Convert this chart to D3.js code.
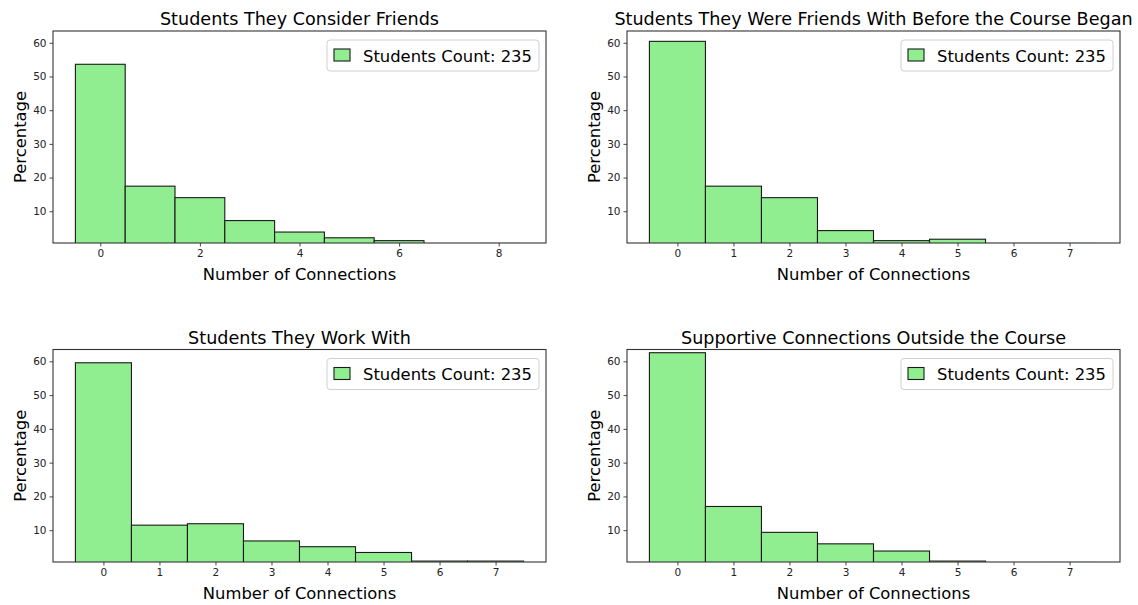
<!DOCTYPE html>
<html>
<head>
<meta charset="utf-8">
<script src="https://cdn.jsdelivr.net/npm/d3@7"></script>
<style>
  html, body { margin: 0; padding: 0; background: #fff; }
  svg { display: block; font-family: "DejaVu Sans", sans-serif; }
</style>
</head>
<body>
<svg id="chart" width="1138" height="605"></svg>
<script>
// Percentage of students (n = 235) by number of connections, one array per question
const titles = [
  "Students They Consider Friends",
  "Students They Were Friends With Before the Course Began",
  "Students They Work With",
  "Supportive Connections Outside the Course"
];
const considerFriends = [53.62, 17.45, 14.04, 7.23, 3.83, 2.13, 1.28, 0, 0.43];
const friendsBefore   = [60.43, 17.45, 14.04, 4.26, 1.28, 1.70, 0.43, 0.43];
const workWith        = [59.57, 11.49, 11.91, 6.81, 5.11, 3.40, 0.85, 0.85];
const supportOutside  = [62.55, 17.02, 9.36, 5.96, 3.83, 0.85, 0, 0.43];
const seriesList = [considerFriends, friendsBefore, workWith, supportOutside];

const xTicksWide = [0, 2, 4, 6, 8];
const xTicksNarrow = [0, 1, 2, 3, 4, 5, 6, 7];
const yTicks = [10, 20, 30, 40, 50, 60];
const legendLabel = "Students Count: 235";
const xLabel = "Number of Connections";
const yLabel = "Percentage";
const yRange = [0.58, 63.5];

const svg = d3.select("#chart");

const panels = [
  { left: 53, right: 546, top: 31, bottom: 243, ticks: xTicksWide },
  { left: 627, right: 1120, top: 31, bottom: 243, ticks: xTicksNarrow },
  { left: 53, right: 546, top: 349.5, bottom: 562, ticks: xTicksNarrow },
  { left: 627, right: 1120, top: 349.5, bottom: 562, ticks: xTicksNarrow }
];

const tickFont = 10.5, labelFont = 16.4, titleFont = 17.6;

panels.forEach((p, i) => {
  const data = seriesList[i];
  const n = data.length;
  const pad = n * 0.05;
  const x = d3.scaleLinear().domain([-0.5 - pad, n - 0.5 + pad]).range([p.left, p.right]);
  const y = d3.scaleLinear().domain(yRange).range([p.bottom, p.top]);

  const g = svg.append("g");
  const clipId = "clip" + i;
  svg.append("clipPath").attr("id", clipId)
    .append("rect")
    .attr("x", p.left).attr("y", p.top)
    .attr("width", p.right - p.left).attr("height", p.bottom - p.top);

  // histogram bars, one per connection count (bin width 1, centred on the integer)
  g.append("g").attr("clip-path", `url(#${clipId})`)
    .selectAll("rect")
    .data(data.map((v, k) => ({ k, v })).filter(d => d.v > 0))
    .join("rect")
    .attr("x", d => x(d.k - 0.5))
    .attr("width", d => x(d.k + 0.5) - x(d.k - 0.5))
    .attr("y", d => y(d.v))
    .attr("height", d => y(0) - y(d.v))
    .attr("fill", "#90ee90")
    .attr("stroke", "#1a1a1a")
    .attr("stroke-width", 1.1);

  // axes
  const xAxis = d3.axisBottom(x).tickValues(p.ticks).tickSize(3.5).tickPadding(3).tickFormat(d3.format("d"));
  const yAxis = d3.axisLeft(y).tickValues(yTicks).tickSize(3.5).tickPadding(3).tickFormat(d3.format("d"));

  const gx = g.append("g").attr("transform", `translate(0,${p.bottom})`).call(xAxis);
  const gy = g.append("g").attr("transform", `translate(${p.left},0)`).call(yAxis);
  [gx, gy].forEach(a => {
    a.select(".domain").remove();
    a.selectAll(".tick line").attr("stroke", "#333").attr("stroke-width", 0.9);
    a.selectAll(".tick text").attr("fill", "#222").style("font-size", tickFont + "px")
      .style("font-family", "DejaVu Sans, sans-serif");
  });

  // frame
  g.append("rect")
    .attr("x", p.left).attr("y", p.top)
    .attr("width", p.right - p.left).attr("height", p.bottom - p.top)
    .attr("fill", "none").attr("stroke", "#333").attr("stroke-width", 1.1);

  // title
  g.append("text")
    .attr("x", (p.left + p.right) / 2).attr("y", p.top - 6)
    .attr("text-anchor", "middle")
    .style("font-size", titleFont + "px").attr("fill", "#000")
    .text(titles[i]);

  // axis labels
  g.append("text")
    .attr("x", (p.left + p.right) / 2).attr("y", p.bottom + 37)
    .attr("text-anchor", "middle")
    .style("font-size", labelFont + "px").attr("fill", "#000")
    .text(xLabel);
  g.append("text")
    .attr("transform", `translate(${p.left - 27},${(p.top + p.bottom) / 2}) rotate(-90)`)
    .attr("text-anchor", "middle")
    .style("font-size", labelFont + "px").attr("fill", "#000")
    .text(yLabel);

  // legend
  const lg = g.append("g").attr("transform", `translate(${p.right - 219},${p.top + 9})`);
  lg.append("rect")
    .attr("width", 212).attr("height", 31).attr("rx", 3)
    .attr("fill", "#fff").attr("fill-opacity", 0.8)
    .attr("stroke", "#d0d0d0").attr("stroke-width", 1);
  lg.append("rect")
    .attr("x", 7).attr("y", 9).attr("width", 16).attr("height", 12)
    .attr("fill", "#90ee90").attr("stroke", "#1a1a1a").attr("stroke-width", 1.1);
  lg.append("text")
    .attr("x", 36).attr("y", 21.5)
    .style("font-size", labelFont + "px").attr("fill", "#000")
    .text(legendLabel);
});
</script>
</body>
</html>
